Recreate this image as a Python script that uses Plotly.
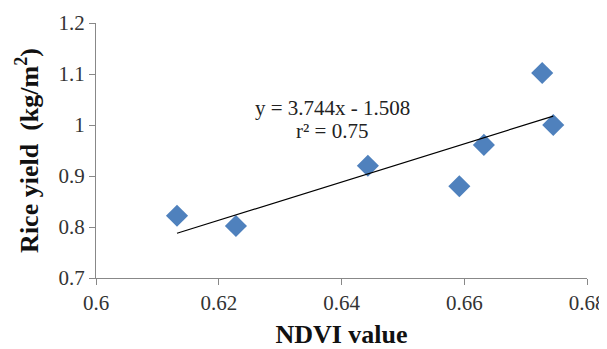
import numpy as np
import plotly.graph_objects as go

ndvi = [0.6132, 0.6228, 0.6443, 0.6592, 0.6632, 0.6727, 0.6745]
rice_yield = [0.822, 0.802, 0.920, 0.880, 0.961, 1.102, 1.000]
slope = 3.744
intercept = -1.508
r2 = 0.75
x_ticks = [0.6, 0.62, 0.64, 0.66, 0.68]
y_ticks = [0.7, 0.8, 0.9, 1.0, 1.1, 1.2]
y_tick_text = ["0.7", "0.8", "0.9", "1", "1.1", "1.2"]

font_family = "Liberation Serif"

fig = go.Figure()
fig.add_trace(go.Scatter(
    x=ndvi, y=rice_yield, mode="markers",
    marker=dict(symbol="diamond", size=17, color="#4F81BD", line=dict(width=0)),
    showlegend=False,
))
x_line = np.array([min(ndvi), max(ndvi)])
fig.add_trace(go.Scatter(
    x=x_line, y=slope * x_line + intercept, mode="lines",
    line=dict(color="black", width=1.2), showlegend=False,
))

ann_font = dict(family=font_family, size=21, color="#222")
fig.add_annotation(x=0.6385, y=1.034, xref="x", yref="y",
                   text=f"y = {slope}x - {abs(intercept)}",
                   showarrow=False, font=ann_font)
fig.add_annotation(x=0.6385, y=0.988, xref="x", yref="y",
                   text=f"r² = {r2}", showarrow=False, font=ann_font)

axis_common = dict(
    showgrid=False, zeroline=False, showline=True, linecolor="#888888",
    linewidth=1, ticks="outside", tickcolor="#888888", ticklen=6,
    tickfont=dict(family=font_family, size=21, color="#333"),
    automargin=False,
)
fig.update_xaxes(range=[0.6, 0.68], tickvals=x_ticks,
                 ticktext=[f"{v:g}" for v in x_ticks],
                 title=dict(text="<b>NDVI value</b>", standoff=14,
                            font=dict(family=font_family, size=26, color="#111")),
                 **axis_common)
fig.update_yaxes(range=[0.7, 1.2], tickvals=y_ticks, ticktext=y_tick_text,
                 title=dict(text="<b>Rice yield  (kg/m<sup>2</sup>)</b>", standoff=12,
                            font=dict(family=font_family, size=26, color="#111")),
                 **axis_common)
fig.update_layout(
    width=599, height=341,
    margin=dict(l=88, r=20, t=15, b=71),
    plot_bgcolor="white", paper_bgcolor="white",
)
fig.write_html("out.html")
